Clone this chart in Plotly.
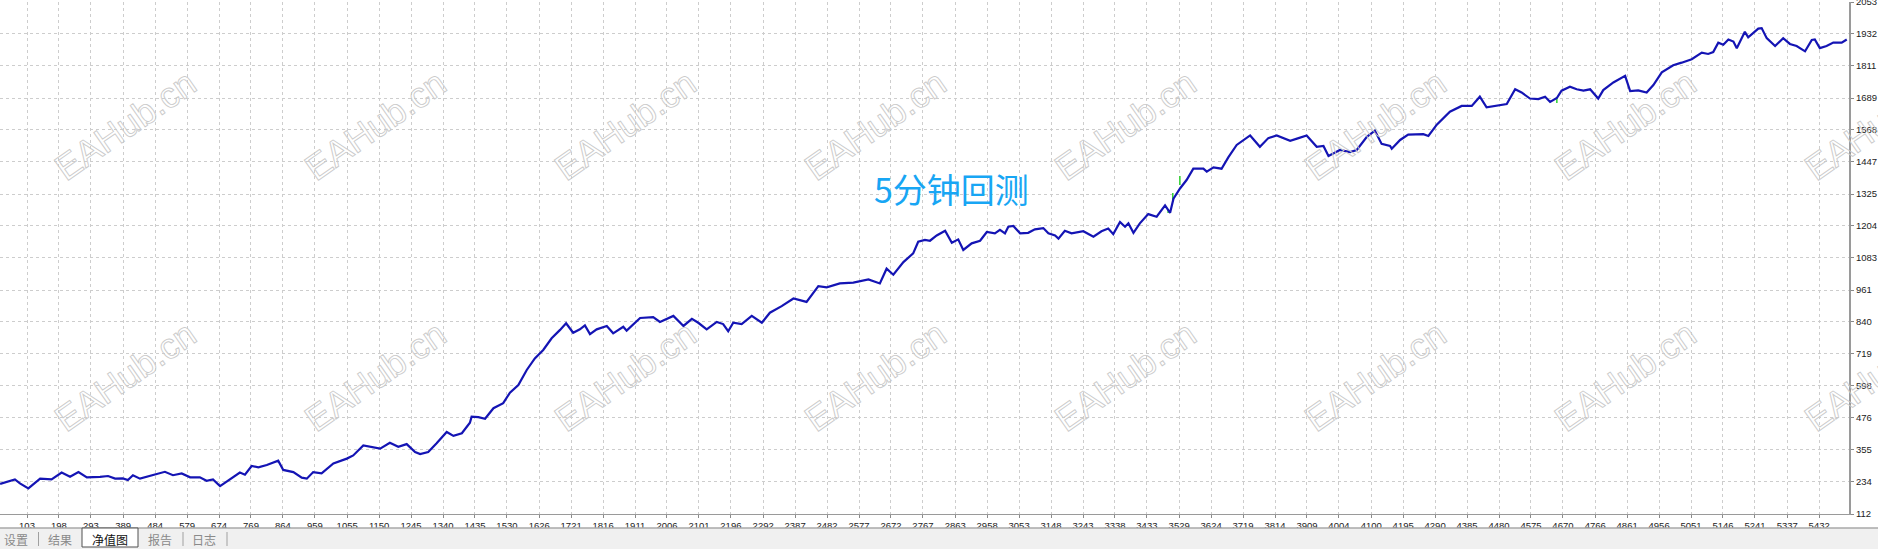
import plotly.graph_objects as go

# ---------------- data ----------------
trade_x = [
    23, 57, 67, 82, 107, 142, 176, 206, 231, 256, 281, 320, 344, 365, 388, 403, 418, 439, 484, 513,
    537, 563, 588, 617, 637, 656, 677, 707, 736, 751, 771, 791, 816, 850, 865, 895, 920, 935, 954, 979,
    1014, 1054, 1073, 1103, 1128, 1153, 1182, 1207, 1232, 1257, 1272, 1296, 1321, 1351, 1371, 1396, 1420,
    1425, 1445, 1465, 1490, 1519, 1539, 1564, 1589, 1613, 1638, 1663, 1688, 1706, 1727, 1747, 1762, 1777,
    1797, 1827, 1846, 1876, 1886, 1926, 1965, 1985, 2025, 2055, 2080, 2099, 2124, 2154, 2173, 2188, 2203,
    2228, 2258, 2288, 2312, 2347, 2382, 2421, 2456, 2481, 2520, 2560, 2605, 2639, 2659, 2679, 2709, 2738,
    2753, 2773, 2788,
    2808, 2833, 2853, 2872, 2887, 2912, 2937, 2957, 2981, 2996, 3011, 3021, 3036, 3056, 3080, 3100, 3125,
    3140, 3160, 3170, 3189, 3209, 3244, 3274, 3298, 3318, 3333, 3353, 3368, 3378, 3393, 3412, 3437, 3462,
    3487, 3502, 3512, 3532, 3551, 3571, 3601, 3611, 3631, 3655, 3675, 3700, 3725, 3740, 3769, 3794, 3819,
    3859, 3884, 3908, 3938, 3958, 3973, 4007, 4037, 4057, 4087, 4111, 4131, 4156,
    4161, 4186, 4210, 4255, 4270, 4295, 4334, 4369, 4399, 4423, 4443, 4473, 4503, 4528, 4547, 4572, 4597,
    4617, 4632, 4652, 4666, 4691, 4711, 4731, 4751, 4775, 4790, 4820, 4855, 4870, 4894, 4919, 4939, 4964,
    4998, 5023, 5053, 5083, 5102, 5117, 5132, 5147, 5162, 5177, 5187, 5211, 5221, 5251, 5261, 5276, 5301,
    5325, 5345, 5365, 5390, 5410, 5419, 5434, 5454, 5474, 5499, 5514,
]
balance = [
    226, 238, 243, 228, 209, 246, 243, 269, 253, 271, 251, 253, 256, 246, 247, 241, 259, 246, 261, 272,
    259, 266, 251, 251, 238, 243, 218, 243, 269, 261, 294, 289, 298, 314, 279, 271, 250, 246, 271, 266,
    304, 322, 334, 372, 367, 360, 382, 367, 377, 347, 339, 347, 380, 423, 408, 418, 458,
    481, 479, 473, 513, 532, 572, 601, 658, 702, 734, 778, 810, 835, 799, 812, 827, 794,
    812, 825, 797, 822, 807, 855, 858, 840, 863, 825, 852, 837, 812, 840, 832, 805, 837,
    832, 863, 837, 875, 900, 929, 916, 976, 971, 986, 989, 1001, 986, 1042, 1019, 1067, 1100,
    1144, 1151, 1148,
    1168, 1186, 1140, 1153, 1113, 1138, 1148, 1181, 1176, 1189, 1176, 1201, 1204, 1176, 1178, 1191, 1196,
    1176, 1168, 1156, 1186, 1176, 1184, 1163, 1184, 1194, 1173, 1219, 1201, 1214, 1178, 1214, 1249, 1239,
    1282, 1254, 1307, 1347, 1378, 1421, 1421, 1410, 1426, 1421, 1464, 1511, 1532, 1547, 1504, 1537, 1547,
    1527, 1537, 1547, 1504, 1507, 1469, 1492, 1484, 1492, 1542, 1565, 1515, 1507,
    1497, 1530, 1550, 1552, 1545, 1588, 1637, 1659, 1659, 1694, 1654, 1659, 1666, 1722, 1710, 1687, 1685,
    1694, 1674, 1689, 1717, 1732, 1722, 1717, 1722, 1687, 1719, 1748, 1773, 1715, 1718, 1710, 1738, 1786,
    1813, 1823, 1836, 1861, 1856, 1863, 1899, 1891, 1911, 1903, 1878, 1940, 1919, 1952, 1954, 1916, 1886,
    1916, 1894, 1886, 1866, 1909, 1911, 1878, 1886, 1899, 1899, 1911,
]

# equity deviations (green) visible beside the balance line
equity_x = [3496, 3496, None, 3510, 3510, None, 3531, 3531, None, 4652, 4652]
equity_v = [1253, 1264, None, 1302, 1329, None, 1359, 1393, None, 1670, 1693]

x_ticks = [103, 198, 293, 389, 484, 579, 674, 769, 864, 959, 1055, 1150, 1245, 1340, 1435, 1530,
           1626, 1721, 1816, 1911, 2006, 2101, 2196, 2292, 2387, 2482, 2577, 2672, 2767, 2863, 2958,
           3053, 3148, 3243, 3338, 3433, 3529, 3624, 3719, 3814, 3909, 4004, 4100, 4195, 4290, 4385,
           4480, 4575, 4670, 4766, 4861, 4956, 5051, 5146, 5241, 5337, 5432]
y_ticks = [112, 234, 355, 476, 598, 719, 840, 961, 1083, 1204, 1325, 1447, 1568, 1689, 1811, 1932, 2053]

title_text = "5分钟回测"
watermark_text = "EAHub.cn"
tab_labels = ["设置", "结果", "净值图", "报告", "日志"]
selected_tab = "净值图"

# ---------------- layout geometry ----------------
W, H = 1878, 549
ML, MR, MT, MB = 0, 29, 2, 35
PW = W - ML - MR
PH = H - MT - MB


def pxx(xp):
    return (xp - ML) / PW


def pxy(yp):
    return (H - MB - yp) / PH


fig = go.Figure()
fig.add_trace(go.Scatter(x=equity_x, y=equity_v, mode="lines",
                         line=dict(color="#2fd02f", width=1.5), hoverinfo="skip",
                         connectgaps=False))
fig.add_trace(go.Scatter(x=trade_x, y=balance, mode="lines",
                         line=dict(color="#1414b4", width=2.2), hoverinfo="skip"))

tickfont = dict(family="Liberation Sans", size=9.5, color="#222222")
fig.update_layout(
    template="none",
    width=W, height=H,
    margin=dict(l=ML, r=MR, t=MT, b=MB, pad=0),
    paper_bgcolor="white", plot_bgcolor="white",
    showlegend=False,
    xaxis=dict(range=[22.7, 5520.7], tickvals=x_ticks, ticktext=[str(v) for v in x_ticks],
               showgrid=True, gridcolor="#cdcdcd", griddash="dot", gridwidth=1,
               zeroline=False, showline=True, linecolor="#9a9a9a", linewidth=1,
               ticks="outside", ticklen=3, tickcolor="#8a8a8a", tickfont=tickfont,
               automargin=False, fixedrange=True, ticklabeloverflow="allow"),
    yaxis=dict(range=[112, 2053], side="right", tickvals=y_ticks, ticktext=[str(v) for v in y_ticks],
               showgrid=True, gridcolor="#cdcdcd", griddash="dot", gridwidth=1,
               zeroline=False, showline=True, linecolor="#9a9a9a", linewidth=2,
               ticks="outside", ticklen=3, tickcolor="#8a8a8a", tickfont=tickfont,
               automargin=False, fixedrange=True, ticklabeloverflow="allow"),
)

annotations = []
# watermarks (outlined text)
for cy in (125, 376):
    for k in range(8):
        cx = 125 + 250 * k
        annotations.append(dict(
            xref="paper", yref="paper", x=pxx(cx), y=pxy(cy),
            text='<span style="fill:none;stroke:#cacaca;stroke-width:0.9px">' + watermark_text + '</span>',
            showarrow=False, textangle=-35, xanchor="center", yanchor="middle",
            font=dict(family="Liberation Sans", size=36, color="#cacaca")))

# title
annotations.append(dict(xref="paper", yref="paper", x=pxx(951), y=pxy(188), text=title_text,
                        showarrow=False, xanchor="center", yanchor="middle",
                        font=dict(family="Noto Sans CJK SC", size=34, color="#18a6f4")))

# tab bar
shapes = [
    dict(type="rect", xref="paper", yref="paper", x0=pxx(-5), x1=pxx(W + 5), y0=pxy(H + 5), y1=pxy(528),
         fillcolor="#f0f0f0", line=dict(width=0), layer="above"),
    dict(type="line", xref="paper", yref="paper", x0=pxx(-5), x1=pxx(W + 5), y0=pxy(528), y1=pxy(528),
         line=dict(color="#a8a8a8", width=1.5), layer="above"),
    dict(type="rect", xref="paper", yref="paper", x0=pxx(82), x1=pxx(138), y0=pxy(547), y1=pxy(528),
         fillcolor="white", line=dict(color="#505050", width=1), layer="above"),
]
for sx in (38.5, 183, 227):
    shapes.append(dict(type="line", xref="paper", yref="paper", x0=pxx(sx), x1=pxx(sx),
                       y0=pxy(546), y1=pxy(532), line=dict(color="#a0a0a0", width=1), layer="above"))

tab_centers = [16, 60, 110, 160, 204]
for lab, cx in zip(tab_labels, tab_centers):
    annotations.append(dict(xref="paper", yref="paper", x=pxx(cx), y=pxy(539), text=lab,
                            showarrow=False, xanchor="center", yanchor="middle",
                            font=dict(family="Noto Sans CJK SC", size=12,
                                      color="#111111" if lab == selected_tab else "#8a8a8a")))

fig.update_layout(annotations=annotations, shapes=shapes)
fig.write_html("out.html", config={"displayModeBar": False, "staticPlot": True},
               post_script="document.body.style.margin='0';document.body.style.overflow='hidden';")
